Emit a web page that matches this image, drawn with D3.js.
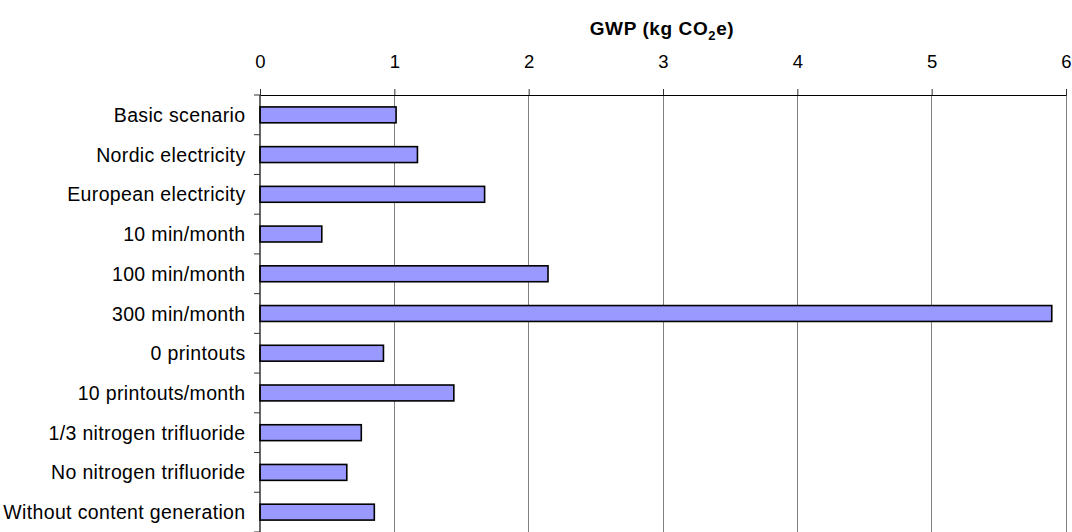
<!DOCTYPE html>
<html><head><meta charset="utf-8">
<script src="https://cdn.jsdelivr.net/npm/d3@7"></script>
<style>body{margin:0;background:#fff;} svg{display:block;font-family:"Liberation Sans",Arial,sans-serif;}</style>
</head><body>
<svg id="c" width="1072" height="532"></svg>
<script>
const categories = ["Basic scenario","Nordic electricity","European electricity","10 min/month","100 min/month","300 min/month","0 printouts","10 printouts/month","1/3 nitrogen trifluoride","No nitrogen trifluoride","Without content generation"];
const values = [1.013, 1.172, 1.672, 0.46, 2.144, 5.894, 0.919, 1.443, 0.754, 0.646, 0.851];
const xTicks = [0,1,2,3,4,5,6];

(function(){
const svg = d3.select("#c");
const mLeft = 260, mRight = 1066, mTop = 95, mBottom = 532;
const x = d3.scaleLinear().domain([0,6]).range([mLeft,mRight]);
const y = d3.scaleBand().domain(categories).range([mTop,mBottom]).paddingInner(0.6).paddingOuter(0.3);

// gridlines
svg.append("g").selectAll("line").data(xTicks.filter(d=>d>0)).join("line")
  .attr("x1",d=>x(d)).attr("x2",d=>x(d)).attr("y1",mTop).attr("y2",mBottom)
  .attr("stroke","#808080").attr("stroke-width",1).attr("shape-rendering","crispEdges");

// bars
svg.append("g").selectAll("rect").data(categories).join("rect")
  .attr("x",x(0)).attr("y",(d)=>y(d))
  .attr("width",(d,i)=>x(values[i])-x(0)).attr("height",y.bandwidth())
  .attr("fill","#9999ff").attr("stroke","#000").attr("stroke-width",1.6);

// top axis
const xa = svg.append("g").attr("transform",`translate(0,${mTop})`)
  .call(d3.axisTop(x).tickValues(xTicks).tickFormat(d3.format("d")).tickSize(6).tickSizeOuter(0).tickPadding(21));
xa.select(".domain").attr("stroke","#000").attr("stroke-width",1.2);
xa.selectAll(".tick line").attr("stroke","#333");
xa.selectAll("text").attr("font-size",18.5).attr("fill","#000").attr("font-family","Liberation Sans, Arial, sans-serif");

// left axis line and ticks at band boundaries
const bounds = d3.range(categories.length+1).map(i=>mTop + i*(mBottom-mTop)/categories.length);
svg.append("line").attr("x1",mLeft).attr("x2",mLeft).attr("y1",mTop).attr("y2",mBottom).attr("stroke","#000").attr("stroke-width",1.2);
svg.append("g").selectAll("line").data(bounds).join("line")
  .attr("x1",mLeft-6).attr("x2",mLeft).attr("y1",d=>d).attr("y2",d=>d).attr("stroke","#333").attr("stroke-width",1);

// category labels
svg.append("g").selectAll("text").data(categories).join("text")
  .attr("x",245.5).attr("y",d=>y(d)+y.bandwidth()/2).attr("dy","0.36em")
  .attr("text-anchor","end").attr("font-size",19.5).attr("letter-spacing",0.35).attr("fill","#000").text(d=>d);

// title
const t = svg.append("text").attr("x",662).attr("y",35).attr("text-anchor","middle")
  .attr("font-size",19).attr("font-weight","bold").attr("letter-spacing",0.6).attr("fill","#000");
t.append("tspan").text("GWP (kg CO");
t.append("tspan").attr("font-size",13).attr("dy",5).text("2");
t.append("tspan").attr("dy",-5).text("e)");
})();
</script>
</body></html>
